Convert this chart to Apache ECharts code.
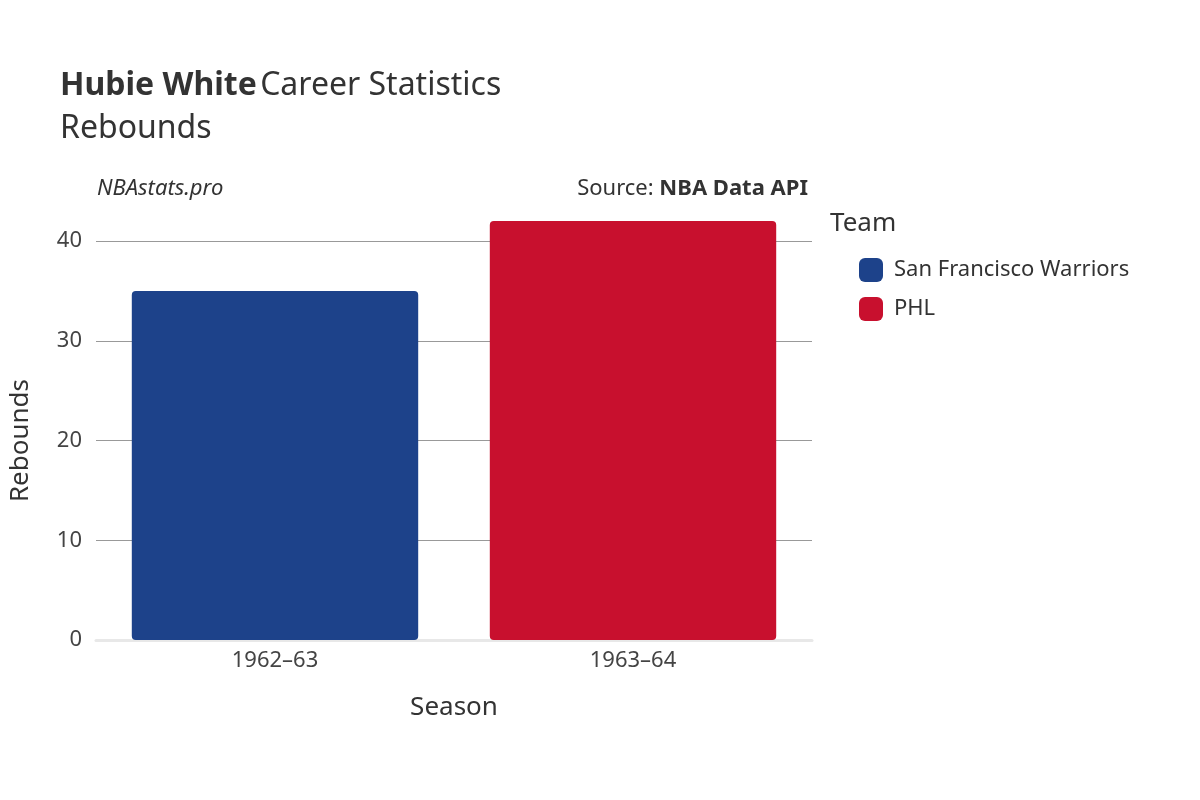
<!DOCTYPE html>
<html><head><meta charset="utf-8">
<script src="https://cdn.jsdelivr.net/npm/echarts@6/dist/echarts.min.js"></script>
<style>html,body{margin:0;background:#fff}#c{width:1200px;height:800px}</style>
</head><body><div id="c"></div>
<script>
const seasons = ['1962–63', '1963–64'];
const teams = ['San Francisco Warriors', 'PHL'];
const colors = ['#1d428a', '#c8102e'];
const warriors = [35, '-'];
const phl = ['-', 42];
const yTicks = [0, 10, 20, 30, 40];
const F = 'Noto Sans, DejaVu Sans, sans-serif';
const chart = echarts.init(document.getElementById('c'));
chart.setOption({
  animation: false,
  textStyle: {fontFamily: F},
  grid: {left: 93, right: 388, top: 241, bottom: 160},
  graphic: [
    {type: 'text', left: 60, top: 70, style: {rich: {b: {fontWeight: 'bold', fontSize: 32, fill: '#333', fontFamily: F}, n: {fontSize: 32, fill: '#333', fontFamily: F}}, text: '{b|Hubie White} {n|Career Statistics}'}},
    {type: 'text', left: 60, top: 113, style: {text: 'Rebounds', fontSize: 32, fill: '#333', fontFamily: F}},
    {type: 'text', left: 97, top: 178, style: {text: 'NBAstats.pro', fontSize: 22, fontStyle: 'italic', fill: '#333', fontFamily: F}},
    {type: 'text', right: 392, top: 178, style: {rich: {n: {fontSize: 22, fill: '#333', fontFamily: F}, b: {fontSize: 22, fontWeight: 'bold', fill: '#333', fontFamily: F}}, text: '{n|Source: }{b|NBA Data API}', align: 'right'}},
    {type: 'text', left: 830, top: 211, style: {text: 'Team', fontSize: 26, fill: '#333', fontFamily: F}}
  ],
  legend: {
    orient: 'vertical', left: 854, top: 253, itemGap: 15, itemWidth: 24, itemHeight: 24,
    icon: 'roundRect', textStyle: {fontSize: 22, color: '#333', padding: [0, 0, 0, 6]},
    data: teams
  },
  xAxis: {
    type: 'category', data: seasons, name: 'Season', nameLocation: 'middle', nameGap: 55,
    nameTextStyle: {fontSize: 26, color: '#333'},
    axisLine: {lineStyle: {color: '#e8e8e8', width: 3}}, axisTick: {show: false},
    axisLabel: {fontSize: 22, color: '#444', margin: 10}
  },
  yAxis: {
    type: 'value', min: 0, max: 40, interval: 10, name: 'Rebounds', nameLocation: 'middle', nameGap: 62,
    nameTextStyle: {fontSize: 26, color: '#333'},
    axisLabel: {fontSize: 22, color: '#444', margin: 14, formatter: v => yTicks.includes(v) ? v : ''},
    splitLine: {lineStyle: {color: '#999', width: 1}}
  },
  series: [
    {name: teams[0], type: 'bar', stack: 's', data: warriors, barWidth: '80%', clip: false, itemStyle: {color: colors[0], borderRadius: 4}},
    {name: teams[1], type: 'bar', stack: 's', data: phl, barWidth: '80%', clip: false, itemStyle: {color: colors[1], borderRadius: 4}}
  ]
});
</script></body></html>
